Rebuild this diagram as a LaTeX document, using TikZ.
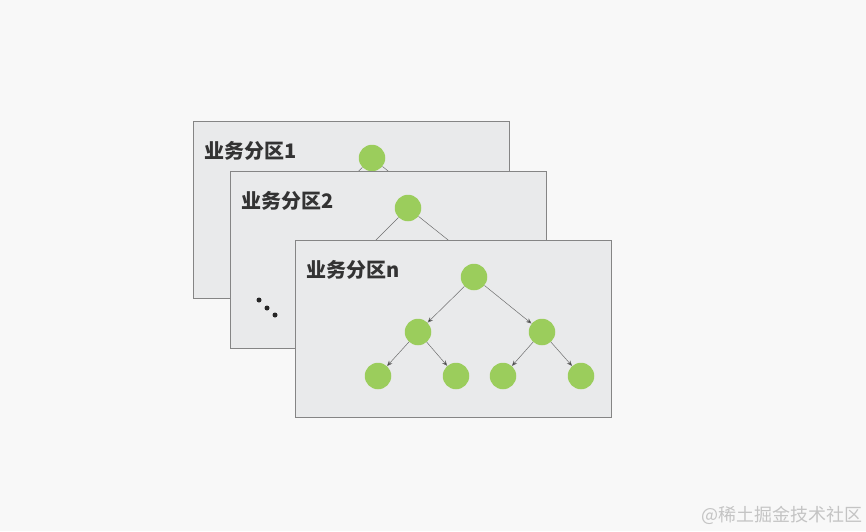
\documentclass[tikz,border=0pt]{standalone}
\usepackage{fontspec}
\usetikzlibrary{arrows.meta,positioning}
\newfontfamily\cjk{Noto Sans CJK SC}
\definecolor{bgcol}{HTML}{F8F8F8}
\definecolor{panelfill}{HTML}{E9EAEB}
\definecolor{panelline}{HTML}{858585}
\definecolor{leafgreen}{HTML}{9BCD5C}
\definecolor{edgegray}{HTML}{6E6E6E}
\definecolor{textgray}{HTML}{333333}
\definecolor{markgray}{HTML}{C4C4C4}
\tikzset{
  panel/.style={draw=panelline, fill=panelfill, line width=0.9pt, minimum width=316pt,
    minimum height=177pt, inner sep=0pt, anchor=north west},
  ball/.style={circle, fill=leafgreen, minimum size=26.5pt, inner sep=0pt},
  plabel/.style={anchor=west, inner sep=0pt, text=textgray,
    font=\cjk\bfseries\fontsize{20}{20}\selectfont},
  link/.style={draw=edgegray, line width=0.5pt},
  arrowlink/.style={link, -{Stealth[length=5.5pt,width=4.5pt,fill=black!85]}}
}

\begin{document}
\begin{tikzpicture}[x=1pt,y=-1pt]
\useasboundingbox (0,0) rectangle (866,531);
\fill [bgcol] (0,0) rectangle (866,531);
% partition 1
\node [panel] (p1) at (193,121) {};
\node [plabel] (lab1) at (204,151) {业务分区1};
\node [ball] (r1) at (372,158) {};
\coordinate (a1) at (316,213);
\coordinate (b1) at (440,213);
\draw [link] (r1) -- (a1);
\draw [link] (r1) -- (b1);
% partition 2
\node [panel] (p2) at (230,171) {};
\node [plabel] (lab2) at (241,201) {业务分区2};
\node [ball] (r2) at (408,208) {};
\coordinate (a2) at (353,263);
\coordinate (b2) at (477,263);
\draw [link] (r2) -- (a2);
\draw [link] (r2) -- (b2);
\fill [black!85] (259,300) circle (2.5);
\fill [black!85] (267,308) circle (2.5);
\fill [black!85] (275,315) circle (2.5);
% partition n
\node [panel] (pn) at (295,240) {};
\node [plabel] (labn) at (306,270) {业务分区n};
\node [ball] (r) at (474,277) {};
\node [ball] (a) at (418,332) {};
\node [ball] (b) at (542,332) {};
\node [ball] (aa) at (378,376) {};
\node [ball] (ab) at (456,376) {};
\node [ball] (ba) at (503,376) {};
\node [ball] (bb) at (581,376) {};
\draw [arrowlink] (r) -- (a);
\draw [arrowlink] (r) -- (b);
\draw [arrowlink] (a) -- (aa);
\draw [arrowlink] (a) -- (ab);
\draw [arrowlink] (b) -- (ba);
\draw [arrowlink] (b) -- (bb);
% watermark
\node [font=\cjk\fontsize{18}{18}\selectfont, text=markgray, anchor=east, inner sep=0pt]
  (mark) at (863,515) {@稀土掘金技术社区};
\end{tikzpicture}
\end{document}
